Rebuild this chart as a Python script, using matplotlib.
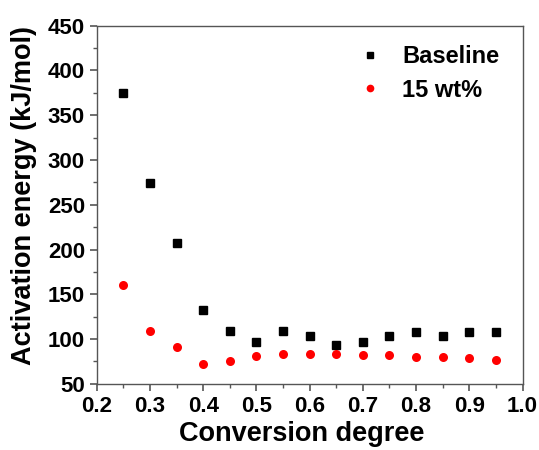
import matplotlib
matplotlib.use("Agg")
import matplotlib.pyplot as plt
from matplotlib.ticker import MultipleLocator

plt.rcParams["font.family"] = ["Liberation Sans", "DejaVu Sans"]
plt.rcParams["font.weight"] = "bold"

conversion = [0.25, 0.30, 0.35, 0.40, 0.45, 0.50, 0.55, 0.60, 0.65, 0.70, 0.75, 0.80, 0.85, 0.90, 0.95]
baseline = [375, 274, 207, 132, 109, 97, 109, 103, 93, 97, 103, 108, 103, 108, 108]
wt15 = [160, 109, 91, 72, 75, 81, 83, 83, 83, 82.5, 82, 80, 79.5, 78.5, 77]

fig = plt.figure(figsize=(5.39, 4.5), dpi=100)
ax = fig.add_axes([0.1795, 0.147, 0.790, 0.796])

ax.plot(conversion, baseline, "s", color="black", markersize=5.2, label="Baseline")
ax.plot(conversion, wt15, "o", color="red", markersize=6.5, markeredgewidth=0, label="15 wt%")

ax.set_xlim(0.2, 1.0)
ax.set_ylim(50, 450)
ax.xaxis.set_major_locator(MultipleLocator(0.1))
ax.xaxis.set_minor_locator(MultipleLocator(0.05))
ax.yaxis.set_major_locator(MultipleLocator(50))
ax.yaxis.set_minor_locator(MultipleLocator(25))
ax.tick_params(which="major", direction="out", length=5, width=1.2, labelsize=16, color="#555555")
ax.tick_params(which="minor", direction="out", length=3, width=1.0, color="#555555")
for lab in ax.get_xticklabels() + ax.get_yticklabels():
    lab.set_fontweight("bold")
for s in ax.spines.values():
    s.set_color("#555555")
    s.set_linewidth(1.0)

ax.set_xlabel("Conversion degree", fontsize=19.5, fontweight="bold")
ax.set_ylabel("Activation energy (kJ/mol)", fontsize=19.5, fontweight="bold")
ax.xaxis.set_label_coords(0.481, -0.105)
ax.yaxis.set_label_coords(-0.14, 0.527)

ax.legend(loc="upper right", frameon=False, prop={"size": 17, "weight": "bold"},
          handletextpad=0.35, markerscale=0.85, borderaxespad=0.5, labelspacing=0.45,
          bbox_to_anchor=(0.995, 1.005))

fig.savefig("out.png", dpi=100)
